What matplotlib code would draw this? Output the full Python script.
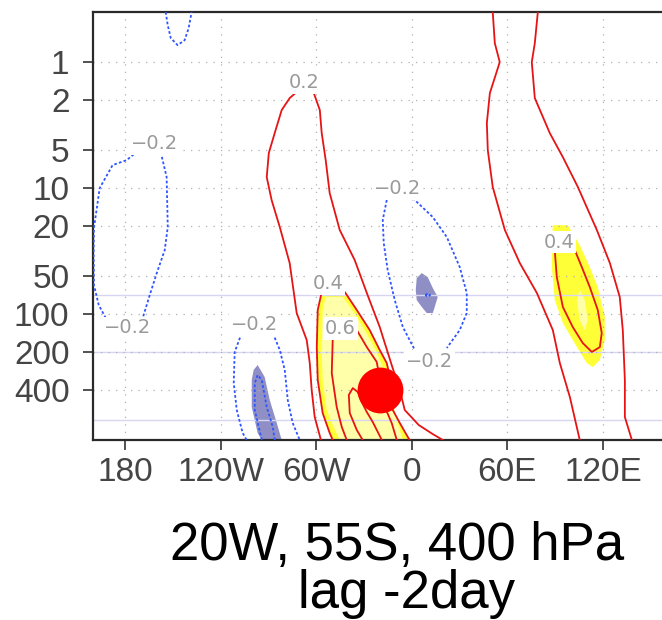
import matplotlib.pyplot as plt
from matplotlib.ticker import NullLocator

lon_ticks = [-180, -120, -60, 0, 60, 120]
lon_labels = ['180', '120W', '60W', '0', '60E', '120E']
lev_ticks = [1, 2, 5, 10, 20, 50, 100, 200, 400]
ref_levels = [70, 200, 700]

# base point of the correlation
base_lon, base_lev = -20, 400

# contour paths: (longitude, pressure hPa)
r02_w_left = ([-70.9, -76.6, -81.6, -86.0, -89.7, -91.0, -87.9, -82.8, -76.6, -72.2, -65.9, -64.0, -62.8, -60.9, -57.0],
              [1.67, 1.93, 2.40, 3.66, 5.27, 8.18, 12.5, 20.4, 39.4, 98.2, 161, 245, 401, 657, 1000])
r02_w_right = ([-62.1, -57.7, -56.5, -54.0, -51.5, -45.2, -35.8, -28.2, -20.1, -12.6, -7.5, -4.4, 4.4, 13.2, 19.5],
               [1.67, 2.40, 3.66, 6.0, 10.96, 21.5, 37.3, 68.1, 126.8, 254, 401, 578, 761, 898, 1000])
r04_w = ([-49.6, -51.5, -55.9, -59.0, -59.6, -59.0, -56.5, -42.0, -34.5, -26.4, -20.1, -15.7, -12.5, -11.9, -7.5, -2.5, -1.3],
         [1000, 880, 611, 334, 183, 92.9, 66.9, 66.9, 92.9, 134, 193, 245, 366, 578, 733, 946, 1000])
r05_w = ([-54.0, -43.3, -36.4, -28.9, -22.0, -13.8, -9.4, -5.6, -45.2, -49.6, -53.3, -55.9, -56.5, -55.9],
         [73.3, 73.3, 96.4, 139, 200, 366, 694, 1000, 1000, 761, 578, 334, 193, 92.9])
r06_w_left = ([-49.6, -50.2, -47.1, -43.9, -40.8], [161, 294, 547, 789, 1000])
r06_w_right = ([-34.5, -28.2, -22.0, -19.0, -16.9, -12.6, -9.4], [134, 183, 240, 380, 547, 733, 1000])
r08_w = ([-30.8, -34.5, -38.9, -39.5, -37.0, -33.9, -31.4, -28.2, -24.5, -18.8],
         [1000, 833, 611, 439, 387, 416, 499, 600, 719, 1000])

r02_e_left = ([50.8, 52.1, 55.2, 49.0, 47.1, 47.7, 50.8, 58.4, 67.8, 78.5, 88.5, 92.9, 99.2, 105.4],
              [0.4, 0.707, 1.0, 1.76, 3.05, 5.0, 9.8, 21.5, 39.4, 68.1, 134, 245, 456, 1000])
r02_e_right = ([79.1, 77.2, 75.3, 77.2, 86.6, 94.8, 104.2, 116.1, 124.3, 130.5, 132.4, 133.7, 133.7, 138.1],
               [0.4, 0.707, 1.0, 1.93, 3.66, 5.68, 9.8, 21.5, 39.4, 73.3, 134, 334, 657, 1000])
r04_e = ([89.7, 91.0, 94.8, 101.0, 107.3, 113.0, 118.0, 119.2, 116.7, 111.7, 106.7, 102.3],
         [31.1, 50.9, 87.9, 126.8, 170, 200, 183, 141.6, 92.9, 61.1, 42.4, 31.1])
y04_e = ([88.5, 97.9, 105.4, 111.7, 116.7, 121.1, 121.1, 118.0, 113.6, 109.8, 103.6, 94.8, 89.7, 87.9, 87.9],
         [19.7, 19.7, 28.3, 42.4, 61.1, 105.6, 161, 232, 264, 245, 183, 118, 77.4, 42.4, 28.3])
y05_e = ([105.4, 108.5, 110.4, 108.5, 105.4, 103.6], [64.5, 77.4, 112, 134, 112, 77.4])

b02_top = ([-154.4, -153.1, -151.2, -146.9, -142.5, -140.0, -138.1],
           [0.4, 0.51, 0.645, 0.733, 0.669, 0.537, 0.4])
b02_dl_left = ([-192.0, -196.4, -199.4, -199.6, -199.4, -195.8, -187.7, -178.9, -172.0],
               [107.6, 84.8, 58.9, 34.0, 20.8, 10.0, 6.57, 6.0, 5.09])
b02_dl_right = ([-157.5, -153.8, -153.1, -155.0, -160.0, -164.4, -168.8],
                [5.18, 8.18, 20.4, 31.1, 47.3, 70.7, 107.6])
b02_90w_left = ([-106.7, -111.1, -111.7, -109.8, -106.1, -103.6], [141.6, 200, 353, 578, 880, 1000])
b02_90w_right = ([-87.2, -82.8, -79.7, -77.8, -74.7, -70.3], [141.6, 193, 278, 482, 733, 1000])
b03_90w = ([-99.2, -96.7, -92.3, -89.1, -84.7, -81.6, -94.1, -96.7, -100.4, -100.4],
           [278, 254, 316, 482, 733, 1000, 1000, 880, 547, 334])
b04_90w = ([-94.1, -98.5, -98.5, -96.7, -94.1, -91.0, -87.2, -86.0],
           [1000, 578, 353, 305, 334, 547, 789, 1000])
b02_0_left = ([-15.1, -18.2, -17.6, -15.1, -10.7, -5.6, 1.9], [11.4, 17.9, 27.3, 44.8, 77.4, 126.8, 193])
b02_0_right = ([0.6, 13.2, 22.0, 30.1, 34.5, 34.5, 30.1, 22.0], [12.0, 17.0, 24.5, 42.4, 68.1, 98.2, 134, 186])
b03_0 = ([3.1, 6.3, 10.0, 13.2, 16.3, 14.4, 13.2, 9.4, 6.3, 3.1, 2.5],
         [51.8, 47.3, 50.9, 62.2, 73.3, 87.9, 98.2, 98.2, 87.9, 77.4, 64.5])
b04_0 = ([8.5, 10.0, 11.5, 10.0, 8.5], [70.7, 68.5, 70.7, 73.0, 70.7])

labels = [('0.2', -67.8, 1.44), ('\u22120.2', -161.3, 4.4), ('\u22120.2', -178.2, 129),
          ('\u22120.2', -98.5, 122), ('\u22120.2', -8.8, 10.0), ('\u22120.2', 11.3, 240),
          ('0.4', -52.7, 56.8), ('0.6', -44.6, 131), ('0.4', 92.3, 26.8)]

RED = '#e61414'
BLUE = '#2f55ff'
SHADE = '#8f8fc6'
YEL = '#ffff38'
PALE = '#ffffaa'
dash = (0, (1.5, 1.2))

fig = plt.figure(figsize=(6.62, 6.20), dpi=100)
ax = fig.add_axes([93 / 662, 1 - 440 / 620, 569 / 662, 428 / 620])

ax.set_yscale('log')
ax.set_xlim(-200, 157)
ax.set_ylim(1000, 0.4)

# shading
ax.fill(*r04_w, color=YEL, lw=0, zorder=1)
ax.fill(*r05_w, color=PALE, lw=0, zorder=1)
ax.fill(*y04_e, color=YEL, lw=0, zorder=1)
ax.fill(*y05_e, color=PALE, lw=0, zorder=1)
ax.fill(*b03_90w, color=SHADE, lw=0, zorder=1)
ax.fill(*b03_0, color=SHADE, lw=0, zorder=1)

for lev in ref_levels:
    ax.axhline(lev, color='#d6d6f2', lw=1.0, zorder=1.2)
ax.grid(True, color='#b0b0b0', lw=0.9, linestyle=(0, (1, 5)), zorder=1.5)

for path in [r02_w_left, r02_w_right, r04_w, r06_w_left, r06_w_right, r08_w,
             r02_e_left, r02_e_right, r04_e]:
    ax.plot(*path, color=RED, lw=1.3, zorder=3)
for path in [b02_top, b02_dl_left, b02_dl_right, b02_90w_left, b02_90w_right,
             b04_90w, b02_0_left, b02_0_right, b04_0]:
    ax.plot(*path, color=BLUE, lw=1.3, linestyle=dash, zorder=3)

for txt, lon, lev in labels:
    ax.text(lon, lev, txt, fontsize=14, color='#9a9a9a', ha='center', va='center', zorder=4,
            bbox=dict(boxstyle='square,pad=0.1', fc='white', ec='none'))

ax.plot(base_lon, base_lev, 'o', color='#ff0000', markersize=33, mec='none', zorder=5)

ax.set_xticks(lon_ticks)
ax.set_xticklabels(lon_labels)
ax.set_yticks(lev_ticks)
ax.set_yticklabels([str(v) for v in lev_ticks])
ax.yaxis.set_minor_locator(NullLocator())
ax.tick_params(direction='out', length=7, width=1.2, color='#333333', labelcolor='#454545',
               labelsize=24)
ax.tick_params(axis='x', pad=5)
ax.tick_params(axis='y', pad=10)
for lab in ax.get_xticklabels() + ax.get_yticklabels():
    lab.set_family('Liberation Sans')

for side in ['left', 'top', 'bottom']:
    ax.spines[side].set_color('#2a2a2a')
    ax.spines[side].set_linewidth(1.6)
ax.spines['right'].set_visible(False)

fig.text(397 / 662, 1 - 560 / 620, '20W, 55S, 400 hPa', fontsize=38, family='Liberation Sans',
         ha='center', va='baseline')
fig.text(406 / 662, 1 - 608 / 620, 'lag -2day', fontsize=38, family='Liberation Sans',
         ha='center', va='baseline')

fig.savefig('out.png', dpi=100)
